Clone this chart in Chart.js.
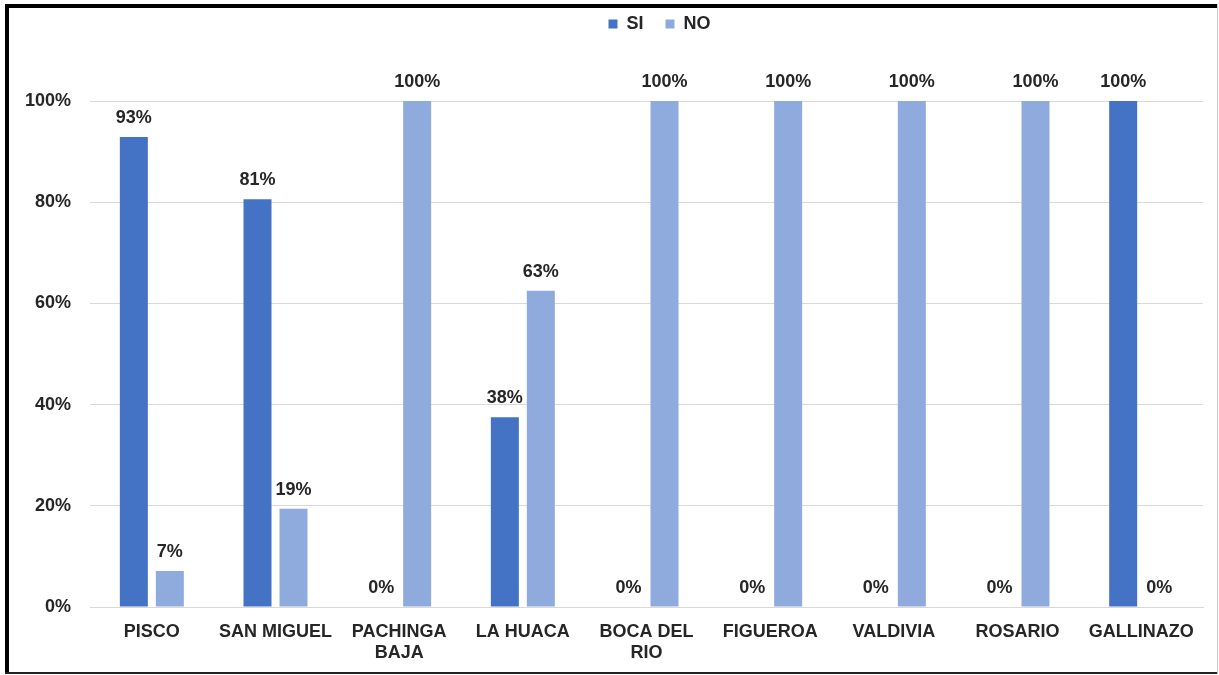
<!DOCTYPE html>
<html>
<head>
<meta charset="utf-8">
<script src="https://cdn.jsdelivr.net/npm/chart.js@4"></script>
<style>
  html, body { margin: 0; padding: 0; background: #fff; }
  #wrap { position: relative; width: 1219px; height: 675px; }
</style>
</head>
<body>
<div id="wrap"><canvas id="chart" width="1219" height="675"></canvas></div>
<script>
// Datos del gráfico
const categories = ["PISCO", "SAN MIGUEL", ["PACHINGA", "BAJA"], "LA HUACA", ["BOCA DEL", "RIO"], "FIGUEROA", "VALDIVIA", "ROSARIO", "GALLINAZO"];
const siValues = [92.9, 80.6, 0, 37.5, 0, 0, 0, 0, 100];
const noValues = [7.1, 19.4, 100, 62.5, 100, 100, 100, 100, 0];
const yTicks = [0, 20, 40, 60, 80, 100];

const FONT = "'Liberation Sans', Arial, sans-serif";
const TEXT = "#262626";

// Etiquetas de datos encima de cada barra
const dataLabels = {
  id: "dataLabels",
  afterDatasetsDraw(chart) {
    const ctx = chart.ctx;
    ctx.save();
    ctx.font = "bold 18px " + FONT;
    ctx.fillStyle = TEXT;
    ctx.textAlign = "center";
    ctx.textBaseline = "alphabetic";
    chart.data.datasets.forEach((ds, i) => {
      chart.getDatasetMeta(i).data.forEach((bar, j) => {
        ctx.fillText(Math.round(ds.data[j]) + "%", bar.x, bar.y - 14);
      });
    });
    ctx.restore();
  }
};

// Fondo y marco
const frame = {
  id: "frame",
  beforeDraw(chart) {
    const ctx = chart.ctx;
    ctx.save();
    ctx.fillStyle = "#fff";
    ctx.fillRect(0, 0, chart.width, chart.height);
    ctx.restore();
  },
  afterDraw(chart) {
    const ctx = chart.ctx;
    ctx.save();
    ctx.fillStyle = "#000";
    ctx.fillRect(5, 4, 1212, 4);
    ctx.fillRect(5, 4, 4, 670);
    ctx.fillStyle = "#222";
    ctx.fillRect(5, 672, 1212, 2);
    ctx.fillStyle = "#c8c8c8";
    ctx.fillRect(1217, 4, 1, 670);
    ctx.restore();
  }
};

// Espacio extra bajo la leyenda y desplazamiento de la misma
const legendSpace = {
  id: "legendSpace",
  beforeInit(chart) {
    const leg = chart.legend;
    const origFit = leg.fit;
    leg.fit = function () {
      origFit.bind(leg)();
      this.height += 46;
    };
    const origDraw = leg.draw;
    leg.draw = function () {
      const ctx = chart.ctx;
      ctx.save();
      ctx.translate(48, -12);
      origDraw.bind(leg)();
      ctx.restore();
    };
  }
};

new Chart(document.getElementById("chart"), {
  type: "bar",
  data: {
    labels: categories,
    datasets: [
      { label: "SI", data: siValues, backgroundColor: "#4472C4", categoryPercentage: 0.582, barPercentage: 0.778 },
      { label: "NO", data: noValues, backgroundColor: "#8FAADC", categoryPercentage: 0.582, barPercentage: 0.778 }
    ]
  },
  options: {
    responsive: false,
    animation: false,
    layout: { padding: { top: 5, left: 20, right: 16, bottom: 0 } },
    plugins: {
      legend: {
        display: true,
        position: "top",
        labels: {
          boxWidth: 9,
          boxHeight: 9,
          padding: 22,
          color: TEXT,
          font: { family: FONT, size: 18, weight: "bold" }
        }
      },
      tooltip: { enabled: false }
    },
    scales: {
      x: {
        grid: { display: false },
        border: { color: "#d9d9d9" },
        ticks: {
          padding: 6,
          color: TEXT,
          maxRotation: 0,
          autoSkip: false,
          font: { family: FONT, size: 18, weight: "bold", lineHeight: 1.2 }
        },
        afterFit(scale) { scale.height = 68; }
      },
      y: {
        min: 0,
        max: 100,
        afterBuildTicks(scale) { scale.ticks = yTicks.map(v => ({ value: v })); },
        grid: { color: "#d9d9d9", drawTicks: false },
        border: { display: false },
        ticks: {
          padding: 19,
          color: TEXT,
          font: { family: FONT, size: 18, weight: "bold" },
          callback: v => v + "%"
        },
        afterFit(scale) { scale.width = 70; }
      }
    }
  },
  plugins: [dataLabels, frame, legendSpace]
});
</script>
</body>
</html>
